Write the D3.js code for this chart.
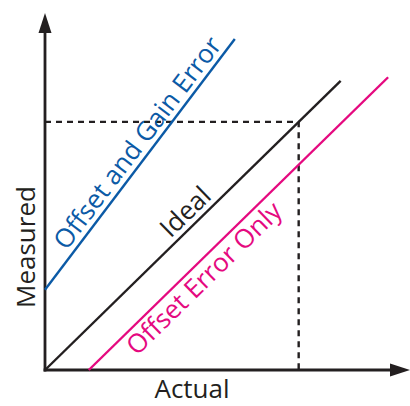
<!DOCTYPE html>
<html>
<head>
<meta charset="utf-8">
<script src="https://cdn.jsdelivr.net/npm/d3@7"></script>
<style>
  html, body { margin: 0; padding: 0; background: #fff; }
  svg { display: block; }
  text { font-family: "Open Sans", "Noto Sans", sans-serif; }
</style>
</head>
<body>
<svg id="chart" width="410" height="406"></svg>
<script>
// Transfer characteristics: ideal response vs. offset and gain errors
const lineNames     = ["Offset and Gain Error", "Ideal", "Offset Error Only"];
const lineColors    = ["#0b5aa6", "#231f20", "#e5097f"];
const actualStart   = [0.00, 0.00, 0.12];
const measuredStart = [0.225, 0.00, 0.00];
const actualEnd     = [0.52, 0.81, 0.94];
const measuredEnd   = [0.927, 0.81, 0.82];
// where each label sits along its line (0 = start, 1 = end) and which side
const labelPos      = [0.55, 0.51, 0.35];
const labelSide     = ["above", "above", "below"];

// reference reading marked with dashed guides
const refActual   = 0.695;
const refMeasured = 0.695;

const axisTitles = { x: "Actual", y: "Measured" };

const svg = d3.select("#chart");
const ink = "#231f20";

const x = d3.scaleLinear().domain([0, 1]).range([45, 410]);
const y = d3.scaleLinear().domain([0, 1]).range([370, 13]);

// dashed guides
svg.append("path")
  .attr("d", `M${x(0)},${y(refMeasured)}H${x(refActual)}V${y(0)}`)
  .attr("fill", "none")
  .attr("stroke", ink)
  .attr("stroke-width", 2.4)
  .attr("stroke-dasharray", "6,5");

// axes with arrowheads
const arrowLen = 20, arrowHalf = 6.5;
svg.append("line")
  .attr("x1", x(0)).attr("y1", y(0) + 1.4)
  .attr("x2", x(0)).attr("y2", y(1) + arrowLen - 2)
  .attr("stroke", ink).attr("stroke-width", 2.8);
svg.append("line")
  .attr("x1", x(0) - 1.4).attr("y1", y(0))
  .attr("x2", x(1) - arrowLen + 2).attr("y2", y(0))
  .attr("stroke", ink).attr("stroke-width", 2.8);
svg.append("path")
  .attr("d", `M${x(0)},${y(1)}L${x(0) + arrowHalf},${y(1) + arrowLen}L${x(0) - arrowHalf},${y(1) + arrowLen}Z`)
  .attr("fill", ink);
svg.append("path")
  .attr("d", `M${x(1)},${y(0)}L${x(1) - arrowLen},${y(0) - arrowHalf}L${x(1) - arrowLen},${y(0) + arrowHalf}Z`)
  .attr("fill", ink);

// transfer lines and their labels
lineNames.forEach((name, i) => {
  const x1 = x(actualStart[i]), y1 = y(measuredStart[i]);
  const x2 = x(actualEnd[i]),   y2 = y(measuredEnd[i]);
  svg.append("line")
    .attr("x1", x1).attr("y1", y1).attr("x2", x2).attr("y2", y2)
    .attr("stroke", lineColors[i]).attr("stroke-width", 2.4);

  const angle = Math.atan2(y2 - y1, x2 - x1) * 180 / Math.PI;
  const px = x1 + (x2 - x1) * labelPos[i];
  const py = y1 + (y2 - y1) * labelPos[i];
  svg.append("text")
    .attr("transform", `translate(${px},${py}) rotate(${angle})`)
    .attr("text-anchor", "middle")
    .attr("dy", labelSide[i] === "above" ? -6 : 24)
    .attr("font-size", 26)
    .attr("fill", lineColors[i])
    .text(name);
});

// axis titles
svg.append("text")
  .attr("x", 192)
  .attr("y", 398)
  .attr("text-anchor", "middle")
  .attr("font-size", 26)
  .attr("fill", ink)
  .text(axisTitles.x);
svg.append("text")
  .attr("transform", `translate(35,${247}) rotate(-90)`)
  .attr("text-anchor", "middle")
  .attr("font-size", 26)
  .attr("fill", ink)
  .text(axisTitles.y);
</script>
</body>
</html>
